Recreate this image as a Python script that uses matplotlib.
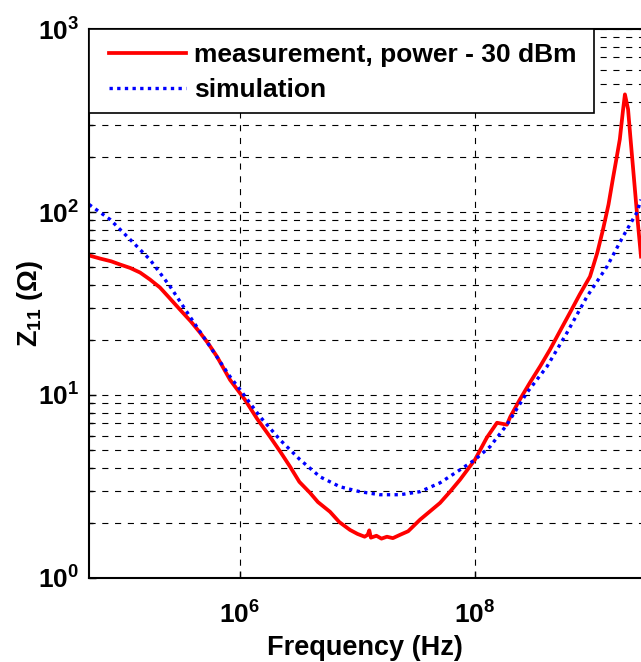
import matplotlib
matplotlib.use("Agg")
import matplotlib.pyplot as plt
import matplotlib.ticker as mticker
from matplotlib.patches import Rectangle
import numpy as np

plt.rcParams['font.family'] = ['Liberation Sans', 'DejaVu Sans']
plt.rcParams['mathtext.fontset'] = 'custom'
plt.rcParams['mathtext.rm'] = 'Liberation Sans:bold'
plt.rcParams['mathtext.bf'] = 'Liberation Sans:bold'
plt.rcParams['mathtext.it'] = 'Liberation Sans:bold'

meas_f = [5.19e4, 6.44e4, 8.0e4, 9.5e4, 1.16e5, 1.41e5, 1.71e5, 2.08e5, 2.5e5, 3.08e5,
          3.8e5, 4.57e5, 5.4e5, 6.37e5, 8.22e5,
          1.10e6, 1.40e6, 1.80e6, 2.2e6, 2.67e6, 3.2e6, 3.94e6, 4.6e6, 5.83e6, 7.0e6, 8.63e6,
          1.0e7, 1.15e7, 1.22e7, 1.26e7, 1.30e7, 1.45e7, 1.6e7, 1.78e7, 2.0e7,
          2.30e7, 2.7e7, 3.40e7, 4.1e7, 5.04e7, 6.1e7, 7.45e7, 1.0e8, 1.26e8,
          1.54e8, 1.87e8, 2.0e8, 2.4e8, 2.94e8, 3.6e8, 4.35e8, 5.3e8, 6.44e8, 7.8e8,
          9.53e8, 1.1e9, 1.23e9, 1.37e9, 1.49e9, 1.61e9,
          1.71e9, 1.82e9, 1.89e9, 2.01e9, 2.1e9, 2.21e9, 2.39e9, 2.59e9]
meas_z = [57.9, 55.7, 53.8, 51.7, 49.5, 46.7, 42.8, 38.7, 34.0, 29.3,
          25.3, 21.9, 19.0, 16.2, 12.1,
          9.43, 7.4, 5.91, 4.9, 4.05, 3.35, 2.92, 2.6, 2.30, 2.02, 1.83,
          1.74, 1.68, 1.72, 1.82, 1.66, 1.70, 1.64, 1.68, 1.65,
          1.72, 1.80, 2.08, 2.3, 2.57, 2.95, 3.44, 4.43, 5.84,
          7.05, 6.88, 7.61, 9.4, 11.7, 14.4, 17.7, 22.4, 28.2, 35.5,
          44.4, 60.0, 80.3, 110, 151, 200,
          250, 360, 440, 365, 260, 178, 99.5, 57.1]

# simulation
sim_f = [5.19e4, 7.83e4, 1.16e5, 1.71e5, 2.54e5, 3.75e5, 5.55e5, 8.22e5, 1.0e6,
         1.48e6, 2.19e6, 3.24e6, 4.80e6, 7.10e6, 1.05e7, 1.55e7, 2.30e7, 3.40e7,
         5.04e7, 7.45e7, 1.0e8, 1.34e8, 1.87e8, 2.77e8, 4.10e8, 6.07e8, 8.98e8,
         1.33e9, 1.82e9, 2.39e9, 2.59e9]
sim_z = [110, 91.1, 70.8, 55.0, 39.2, 26.8, 18.4, 12.6, 10.7,
         7.61, 5.69, 4.43, 3.57, 3.15, 2.96, 2.85, 2.85, 2.96,
         3.31, 3.90, 4.43, 5.21, 6.88, 10.3, 14.3, 21.9, 34.5,
         50.4, 73.5, 99.5, 117]

fig = plt.figure(figsize=(6.41, 6.62), dpi=100)
ax = fig.add_axes([0.139, 0.127, 0.861, 0.829])

ax.loglog(meas_f, meas_z, color='red', lw=2.7, label='measurement, power - 30 dBm')
ax.loglog(sim_f, sim_z, color='blue', lw=2.4, linestyle=(0, (1, 1.3)), label='simulation')

ax.set_xlim(5.19e4, 2.59e9)
ax.set_ylim(1, 1000)

ax.xaxis.set_major_locator(mticker.FixedLocator([1e6, 1e8]))
ax.xaxis.set_major_formatter(mticker.FixedFormatter([r'$10^{6}$', r'$10^{8}$']))
ax.xaxis.set_minor_locator(mticker.NullLocator())
ax.yaxis.set_major_locator(mticker.FixedLocator([1, 10, 100, 1000]))
ax.yaxis.set_major_formatter(mticker.FixedFormatter([r'$10^{0}$', r'$10^{1}$', r'$10^{2}$', r'$10^{3}$']))
ax.yaxis.set_minor_locator(mticker.LogLocator(base=10, subs=np.arange(2, 10)))

ax.grid(True, which='major', axis='both', color='black', lw=0.8, linestyle=(0, (5.5, 6)))
ax.grid(True, which='minor', axis='y', color='black', lw=0.8, linestyle=(0, (5.5, 6)))

ax.tick_params(which='both', direction='in', labelsize=19, width=1)
ax.tick_params(which='major', length=5)
ax.tick_params(axis='y', which='major', pad=7)
ax.tick_params(axis='x', which='major', pad=17)
ax.tick_params(which='minor', length=3)
ax.spines['right'].set_visible(False)
for s in ['left', 'bottom', 'top']:
    ax.spines[s].set_linewidth(1.5)

ax.set_xlabel('Frequency (Hz)', fontsize=19.5, fontweight='bold', labelpad=4.5)
ax.set_ylabel(r'Z$_{11}$ (Ω)', fontsize=19.5, fontweight='bold')
ax.yaxis.set_label_coords(-0.08, 0.5)

# legend frame drawn by hand so the entries can sit a little inset
frame = Rectangle((0, 0.847), 0.915, 0.153, transform=ax.transAxes,
                  facecolor='white', edgecolor='black', lw=1.2, zorder=4)
ax.add_patch(frame)
leg = ax.legend(loc='upper left', bbox_to_anchor=(0.0163, 0.994), borderaxespad=0,
                frameon=False, prop={'size': 19, 'weight': 'bold'},
                handlelength=2.95, handletextpad=0.3, labelspacing=0.42,
                borderpad=0.4)
leg.set_zorder(5)

fig.savefig('out.png', dpi=100)
